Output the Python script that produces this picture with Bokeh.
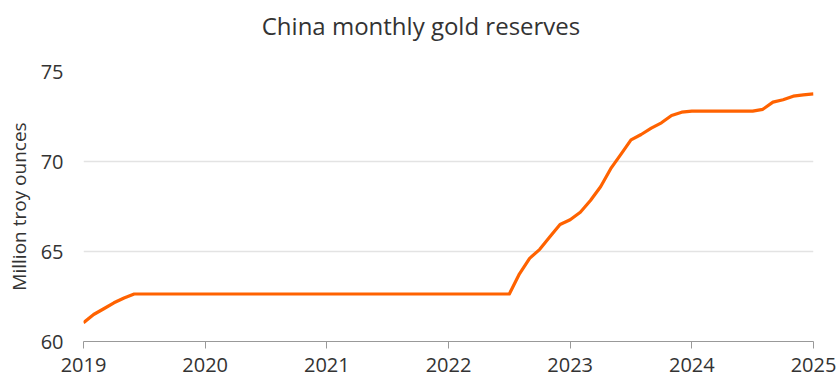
from bokeh.plotting import figure
from bokeh.models import Range1d, FixedTicker
from bokeh.layouts import column
from bokeh.core.properties import value
from bokeh.embed import file_html
from bokeh.resources import INLINE

# Monthly gold reserves (million troy ounces), Jan 2019 .. Jan 2025
start_year = 2019
reserves = (
    [61.04, 61.5, 61.82, 62.15, 62.42] +          # Jan-May 2019
    [62.64] * 38 +                                 # Jun 2019 - Jul 2022
    [63.76, 64.62, 65.12, 65.82, 66.5,             # Aug-Dec 2022
     66.76, 67.18, 67.83, 68.6, 69.6, 70.4,        # Jan-Jun 2023
     71.2, 71.5, 71.85, 72.15, 72.56, 72.74,       # Jul-Dec 2023
     72.8, 72.8, 72.8, 72.8, 72.8, 72.8, 72.8,     # Jan-Jul 2024
     72.9, 73.3, 73.43, 73.63, 73.7, 73.76]        # Aug 2024 - Jan 2025
)
dates = [start_year + i / 12 for i in range(len(reserves))]
year_ticks = [2019, 2020, 2021, 2022, 2023, 2024, 2025]
y_ticks = [60, 65, 70, 75]
title_text = "China monthly gold reserves"

FONT = "Open Sans"
TXT = "#333333"

W, H = 837, 379
TH = 50            # height of the title strip
BL, BR = 83, 24    # left / right borders (frames of both rows are aligned)

# ---- title strip (x in page pixels, frame aligned with the chart frame) ----
t = figure(width=W, height=TH, output_backend="svg", toolbar_location=None,
           x_range=Range1d(BL, W - BR), y_range=Range1d(0, TH),
           x_axis_type=None, y_axis_type=None,
           min_border_left=BL, min_border_right=BR, min_border_top=0,
           min_border_bottom=0)
t.outline_line_color = None
t.xgrid.grid_line_color = None
t.ygrid.grid_line_color = None
t.text(x=[W / 2 + 2], y=[TH - 25], text=[title_text], text_align="center",
       text_baseline="middle", text_font=value(FONT), text_font_size="24px",
       text_color=TXT)

# ---- main chart ----
p = figure(width=W, height=H - TH, output_backend="svg", toolbar_location=None,
           x_range=Range1d(2019, 2025), y_range=Range1d(60, 75),
           min_border_left=BL, min_border_right=BR, min_border_top=71 - TH,
           min_border_bottom=38)
p.outline_line_color = None
p.background_fill_color = "white"

p.line(dates, reserves, line_color="#FF6200", line_width=3.2, line_join="round")

p.xaxis.ticker = FixedTicker(ticks=year_ticks)
p.xaxis.major_label_overrides = {y: str(y) for y in year_ticks}
p.xaxis.minor_tick_line_color = None
p.xaxis.axis_line_color = "#999999"
p.xaxis.major_tick_line_color = "#999999"
p.xaxis.major_tick_in = 0
p.xaxis.major_tick_out = 7
p.xaxis.major_label_text_font = FONT
p.xaxis.major_label_text_font_size = "20px"
p.xaxis.major_label_text_color = TXT
p.xaxis.major_label_standoff = 9

p.yaxis.ticker = FixedTicker(ticks=y_ticks)
p.yaxis.axis_line_color = None
p.yaxis.major_tick_line_color = None
p.yaxis.major_tick_in = 0
p.yaxis.major_tick_out = 0
p.yaxis.minor_tick_line_color = None
p.yaxis.major_label_text_font = FONT
p.yaxis.major_label_text_font_size = "20px"
p.yaxis.major_label_text_color = TXT
p.yaxis.major_label_standoff = 20
p.yaxis.axis_label = "Million troy ounces"
p.yaxis.axis_label_text_font = FONT
p.yaxis.axis_label_text_font_size = "19px"
p.yaxis.axis_label_text_font_style = "normal"
p.yaxis.axis_label_text_color = TXT
p.yaxis.axis_label_standoff = 6

p.xgrid.grid_line_color = None
p.ygrid.grid_line_color = "#e3e3e3"
p.ygrid.grid_line_width = 1.3

layout = column(t, p, spacing=0)
open("out.html", "w").write(file_html(layout, INLINE))
